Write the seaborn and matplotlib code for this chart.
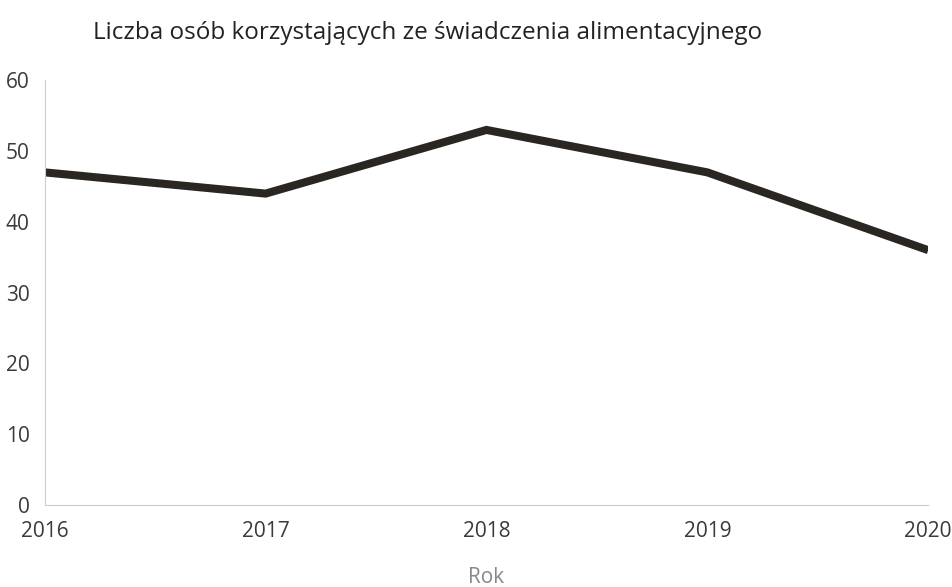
# Liczba osób korzystających ze świadczenia alimentacyjnego, 2016-2020

import pandas as pd
import seaborn as sns
import matplotlib.pyplot as plt

lata = [2016, 2017, 2018, 2019, 2020]
liczba_osob = [47, 44, 53, 47, 36]
y_ticks = [0, 10, 20, 30, 40, 50, 60]

df = pd.DataFrame({"Rok": lata, "Liczba": liczba_osob})

sns.set_style("white")
plt.rcParams['font.family'] = ['Open Sans', 'DejaVu Sans']

fig, ax = plt.subplots(figsize=(9.52, 5.87), dpi=100)
fig.subplots_adjust(left=0.047, right=0.975, bottom=0.14, top=0.863)

sns.lineplot(data=df, x="Rok", y="Liczba", color="#2a2622", linewidth=5.8,
             solid_joinstyle="miter", solid_capstyle="butt", ax=ax)

ax.set_xlim(lata[0], lata[-1])
ax.set_ylim(0, 60)
ax.set_xticks(lata)
ax.set_yticks(y_ticks)
ax.tick_params(axis="both", length=0, labelsize=15, labelcolor="#3a3a3a")
ax.tick_params(axis="x", pad=12)
ax.tick_params(axis="y", pad=11)

for side in ["top", "right"]:
    ax.spines[side].set_visible(False)
for side in ["left", "bottom"]:
    ax.spines[side].set_color("#cccccc")
    ax.spines[side].set_linewidth(0.8)

ax.set_ylabel("")
ax.set_xlabel("Rok", fontsize=15, color="#888888", labelpad=18)
fig.text(0.098, 0.944, "Liczba osób korzystających ze świadczenia alimentacyjnego",
         fontsize=17.5, color="#222222", va="center", ha="left")

fig.savefig("out.png", dpi=100)
plt.close()
